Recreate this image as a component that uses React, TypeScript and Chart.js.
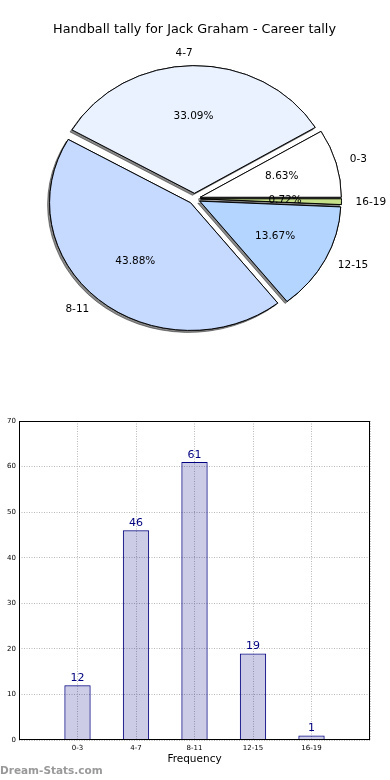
import React, { useEffect, useRef } from 'react';
import { Chart, registerables } from 'chart.js';

Chart.register(...registerables);

const categories = ['0-3', '4-7', '8-11', '12-15', '16-19'];
const frequencies = [12, 46, 61, 19, 1];
const sliceColors = ['#ffffff', '#ebf2ff', '#c6d9ff', '#b4d5ff', '#c6e08a'];
const titleText = 'Handball tally for Jack Graham - Career tally';
const xAxisTitle = 'Frequency';
const watermark = 'Dream-Stats.com';

const FONT = '"DejaVu Sans", sans-serif';
const ASPECT = 0.905;
const EXPLODE = 6;

export default function App() {
  const pieRef = useRef<HTMLCanvasElement>(null);
  const barRef = useRef<HTMLCanvasElement>(null);

  useEffect(() => {
    document.body.style.margin = '0';
    const total = frequencies.reduce((a, b) => a + b, 0);
    const pieLabels = [...categories].reverse();
    const pieValues = [...frequencies].reverse();
    const pieColors = [...sliceColors].reverse();

    const pieDraw = {
      id: 'pieDraw',
      beforeDatasetsDraw(chart: any) {
        const meta = chart.getDatasetMeta(0);
        const ctx = chart.ctx;
        const arcs = meta.data;
        if (!arcs.length) return false;
        const cx = arcs[0].x;
        const cy = arcs[0].y;
        for (const pass of [0, 1]) {
          arcs.forEach((arc: any) => {
            const mid = (arc.startAngle + arc.endAngle) / 2;
            ctx.save();
            if (pass === 0) {
              ctx.shadowColor = 'rgba(40,40,40,0.55)';
              ctx.shadowOffsetX = -2;
              ctx.shadowOffsetY = 2;
              ctx.shadowBlur = 0;
            }
            ctx.translate(cx, cy);
            ctx.scale(1, ASPECT);
            ctx.translate(-cx, -cy);
            ctx.translate(Math.cos(mid) * EXPLODE, Math.sin(mid) * EXPLODE);
            arc.draw(ctx);
            ctx.restore();
          });
        }
        return false;
      },
      afterDraw(chart: any) {
        const meta = chart.getDatasetMeta(0);
        const ctx = chart.ctx;
        const arcs = meta.data;
        if (!arcs.length) return;
        const cx = arcs[0].x;
        const cy = arcs[0].y;
        ctx.save();
        ctx.font = `10.5px ${FONT}`;
        ctx.fillStyle = '#000';
        ctx.textBaseline = 'middle';
        arcs.forEach((arc: any, i: number) => {
          const mid = (arc.startAngle + arc.endAngle) / 2;
          const r = arc.outerRadius;
          const c = Math.cos(mid);
          const s = Math.sin(mid);
          const ex = cx + c * EXPLODE;
          const ey = cy + s * EXPLODE * ASPECT;
          ctx.textAlign = c > 0 ? 'left' : 'right';
          ctx.fillText(pieLabels[i], ex + 1.1 * r * c, ey + 1.1 * r * s * ASPECT);
          ctx.textAlign = 'center';
          ctx.fillText(((pieValues[i] / total) * 100).toFixed(2) + '%', ex + 0.6 * r * c, ey + 0.6 * r * s * ASPECT);
        });
        ctx.restore();
      },
    };

    const pie = new Chart(pieRef.current as HTMLCanvasElement, {
      type: 'pie',
      data: {
        labels: pieLabels,
        datasets: [
          {
            data: pieValues,
            backgroundColor: pieColors,
            borderColor: '#000',
            borderWidth: 1,
          },
        ],
      },
      options: {
        responsive: false,
        animation: false,
        rotation: 90,
        layout: { padding: { left: 53, right: 54, top: 0, bottom: 59.8 } },
        plugins: {
          legend: { display: false },
          tooltip: { enabled: false },
          title: {
            display: true,
            text: titleText,
            color: '#000',
            font: { family: FONT, size: 13, weight: 'normal' },
            padding: { top: 22.2, bottom: 19.4 },
          },
        },
      } as any,
      plugins: [pieDraw],
    });

    const frame = {
      id: 'frame',
      afterDraw(chart: any) {
        const { left, right, top, bottom } = chart.chartArea;
        const ctx = chart.ctx;
        ctx.save();
        ctx.strokeStyle = '#000';
        ctx.lineWidth = 1;
        const l = Math.round(left) + 0.5;
        const t = Math.round(top) + 0.5;
        const r = Math.round(right) - 0.5;
        const b = Math.round(bottom) - 0.5;
        ctx.strokeRect(l, t, r - l, b - t);
        ctx.restore();
      },
    };

    const barLabels = {
      id: 'barLabels',
      afterDatasetsDraw(chart: any) {
        const meta = chart.getDatasetMeta(0);
        const ctx = chart.ctx;
        ctx.save();
        ctx.font = `11px ${FONT}`;
        ctx.fillStyle = '#000080';
        ctx.textAlign = 'center';
        ctx.textBaseline = 'alphabetic';
        meta.data.forEach((el: any, i: number) => {
          ctx.fillText(String(frequencies[i]), el.x, el.y - 4);
        });
        ctx.restore();
      },
    };

    const bar = new Chart(barRef.current as HTMLCanvasElement, {
      type: 'bar',
      data: {
        datasets: [
          {
            data: frequencies.map((v, i) => ({ x: i, y: v })),
            backgroundColor: 'rgba(0,0,128,0.2)',
            borderColor: '#000080',
            borderWidth: 1,
            barPercentage: 0.45,
            categoryPercentage: 1,
          },
        ],
      },
      options: {
        responsive: false,
        animation: false,
        layout: { padding: { top: 21, right: 20, bottom: 5, left: 0 } },
        plugins: { legend: { display: false }, tooltip: { enabled: false } },
        scales: {
          x: {
            type: 'linear',
            min: -1,
            max: 5,
            offset: false,
            grid: { offset: false, color: '#b8b8b8', drawTicks: false },
            border: { display: false, dash: [1, 1.5] },
            ticks: {
              stepSize: 1,
              autoSkip: false,
              maxRotation: 0,
              padding: 4,
              color: '#000',
              font: { family: FONT, size: 7 },
              callback: (v: any) => categories[v as number] ?? '',
            },
            title: {
              display: true,
              text: xAxisTitle,
              color: '#000',
              font: { family: FONT, size: 10.5 },
              padding: { top: 0, bottom: 9 },
            },
            afterFit: (s: any) => {
              s.height = 35;
            },
          },
          y: {
            min: 0,
            max: 70,
            ticks: { stepSize: 10, padding: 3, color: '#000', font: { family: FONT, size: 7 } },
            grid: { color: '#b8b8b8', drawTicks: false },
            border: { display: false, dash: [1, 1.5] },
            afterFit: (s: any) => {
              s.width = 19;
            },
          },
        },
      } as any,
      plugins: [frame, barLabels],
    });

    return () => {
      pie.destroy();
      bar.destroy();
    };
  }, []);

  return (
    <div style={{ position: 'relative', width: 390, height: 780, background: '#fff' }}>
      <canvas ref={pieRef} width={390} height={400} style={{ display: 'block' }} />
      <canvas ref={barRef} width={390} height={380} style={{ display: 'block' }} />
      <div
        style={{
          position: 'absolute',
          left: 0,
          top: 763,
          fontFamily: FONT,
          fontWeight: 'bold',
          fontSize: '10.5px',
          lineHeight: '14px',
          color: '#999',
          whiteSpace: 'nowrap',
        }}
      >
        {watermark}
      </div>
    </div>
  );
}
